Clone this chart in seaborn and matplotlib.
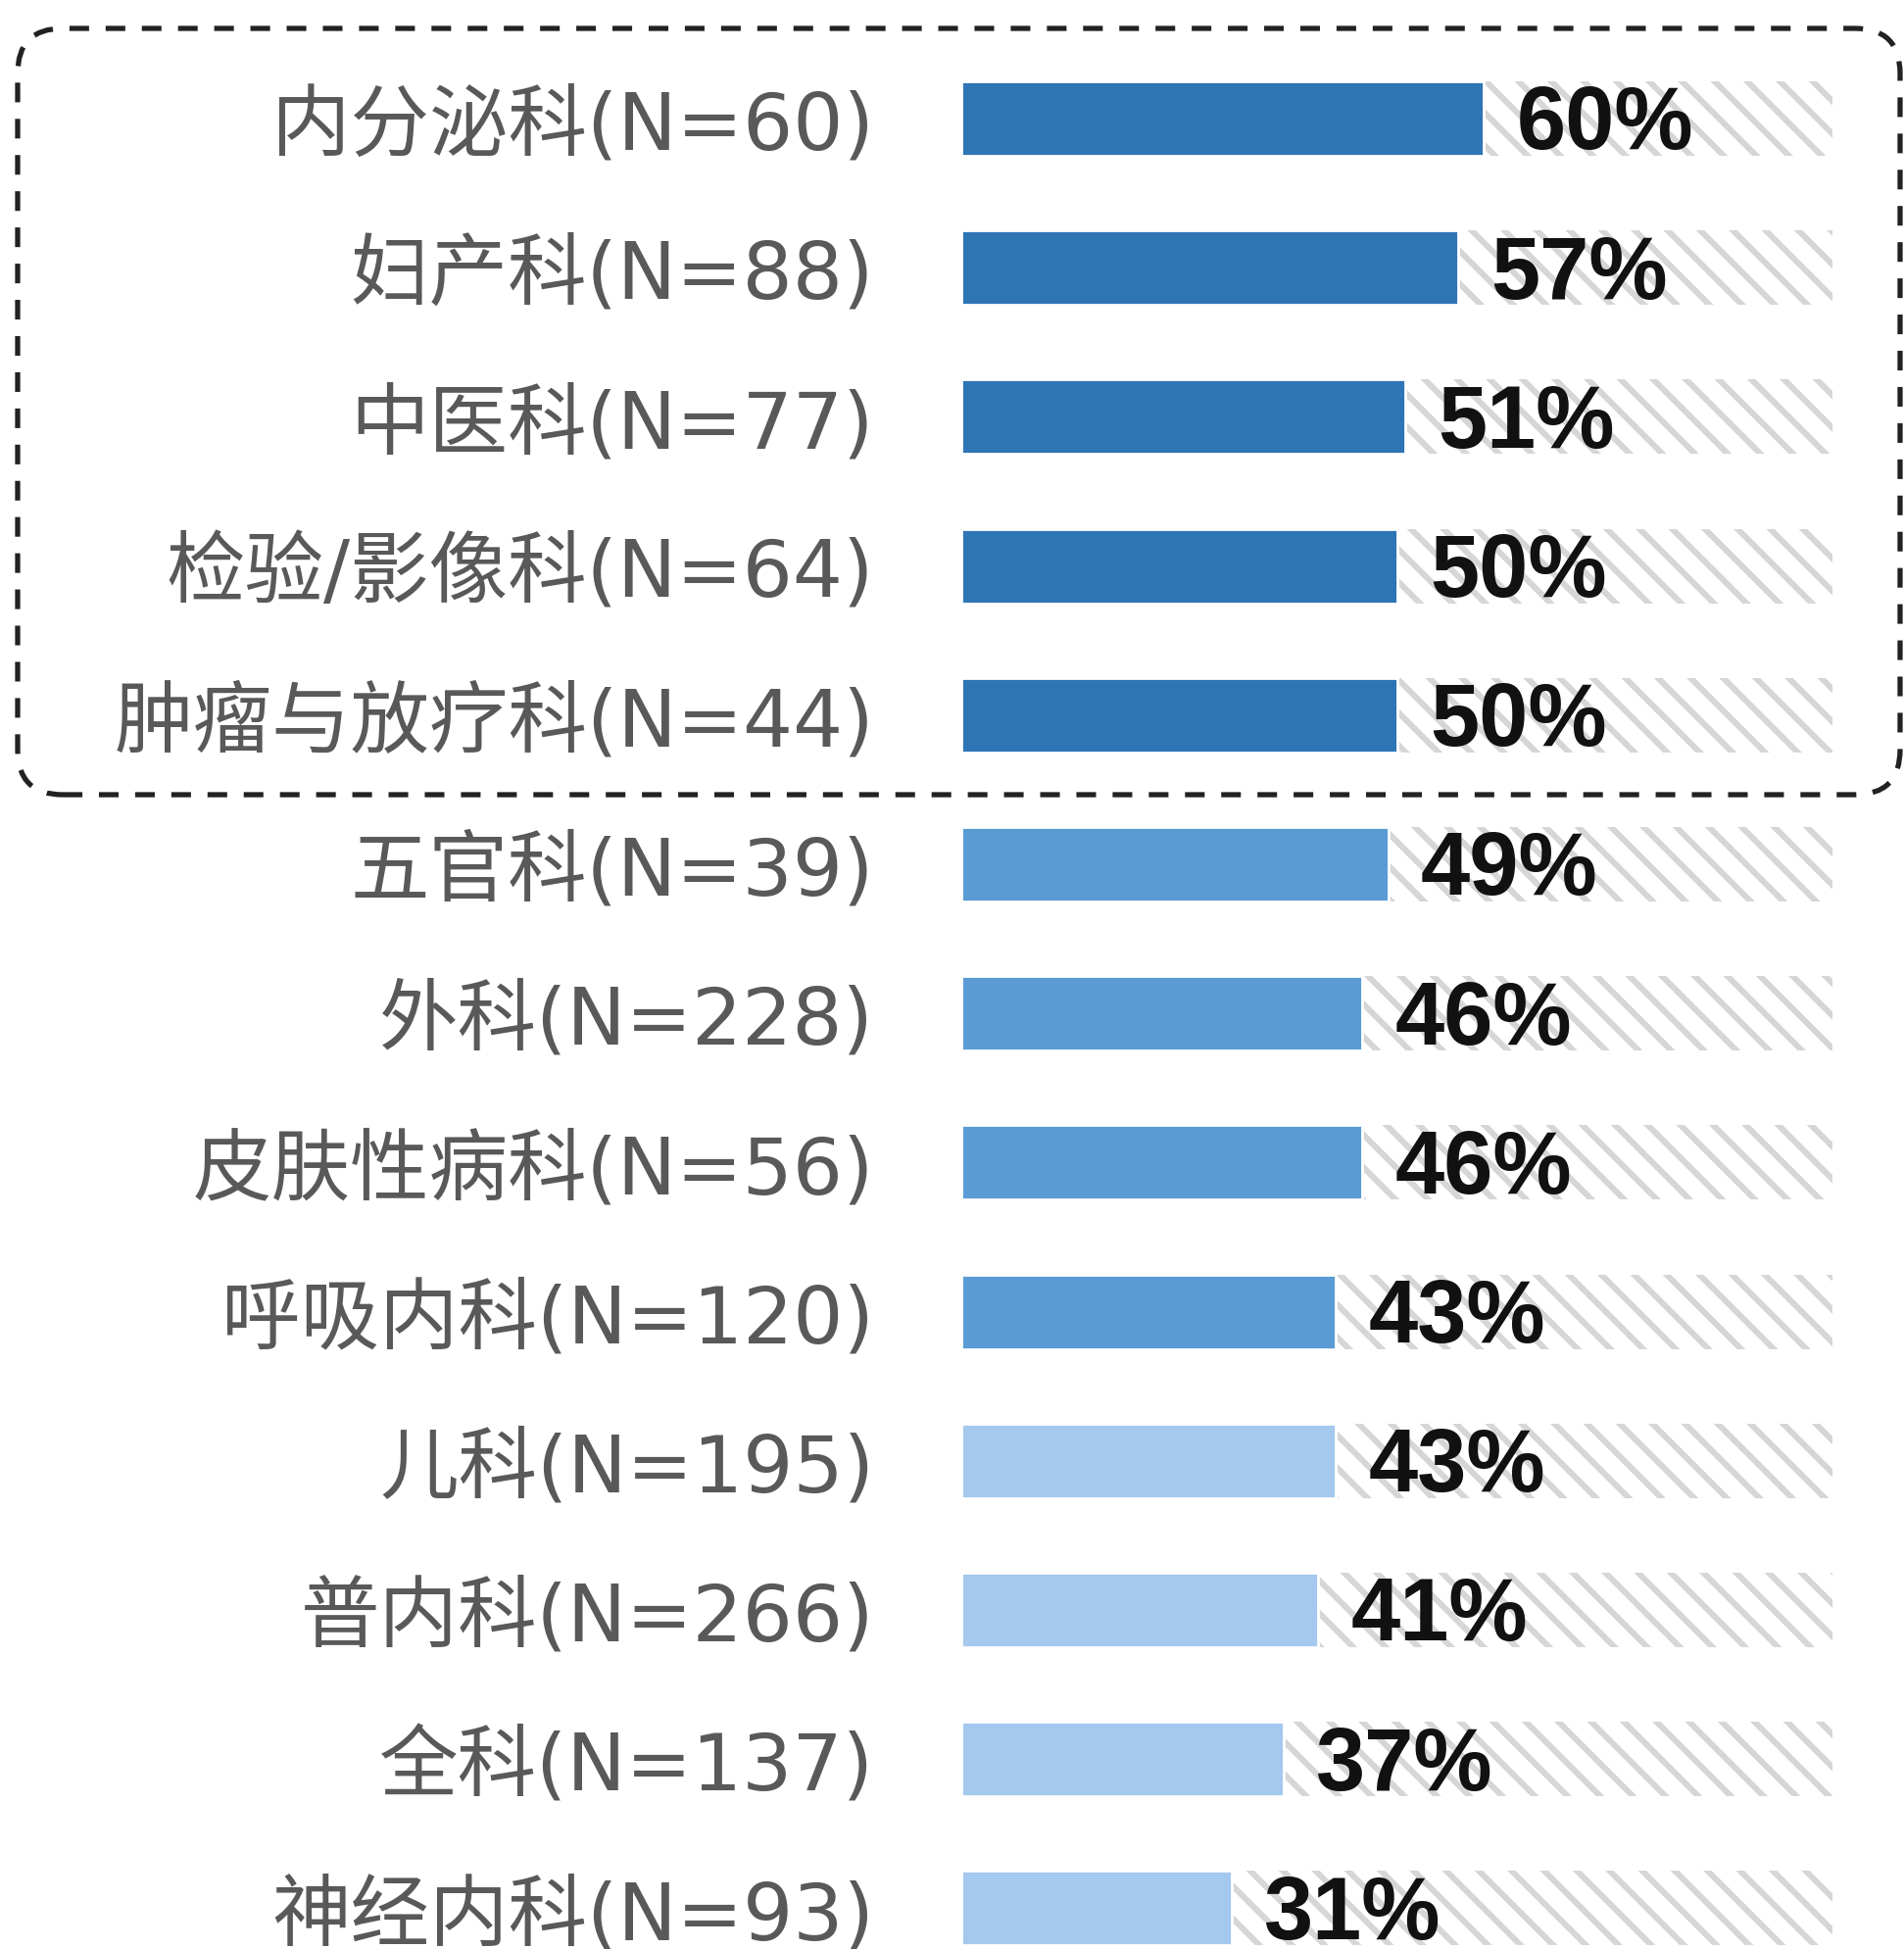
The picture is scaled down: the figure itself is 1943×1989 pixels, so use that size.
import matplotlib
matplotlib.use("Agg")
import matplotlib.pyplot as plt
import seaborn as sns
from matplotlib.patches import FancyBboxPatch

# ---- data ----
departments = ["内分泌科", "妇产科", "中医科", "检验/影像科", "肿瘤与放疗科",
               "五官科", "外科", "皮肤性病科", "呼吸内科", "儿科",
               "普内科", "全科", "神经内科"]
sample_n = [60, 88, 77, 64, 44, 39, 228, 56, 120, 195, 266, 137, 93]
percent = [60, 57, 51, 50, 50, 49, 46, 46, 43, 43, 41, 37, 31]
tier = ["top", "top", "top", "top", "top",
        "mid", "mid", "mid", "mid",
        "low", "low", "low", "low"]
tier_colors = {"top": "#2E75B6", "mid": "#5B9BD5", "low": "#A4C8EE"}
full_scale = [100] * len(departments)

labels = [f"{d}(N={n})" for d, n in zip(departments, sample_n)]
pct_labels = [f"{p}%" for p in percent]
palette = {lab: tier_colors[t] for lab, t in zip(labels, tier)}

# ---- figure ----
sns.set_theme(style="white")
plt.rcParams["font.family"] = ["DejaVu Sans", "Noto Sans CJK SC"]
plt.rcParams["hatch.linewidth"] = 2.2
plt.rcParams["hatch.color"] = "#d6d6d6"

W, H, DPI = 1943, 1990, 200
fig = plt.figure(figsize=(W / DPI, H / DPI), dpi=DPI)
fig.patch.set_facecolor("white")

x0_px, x100_px = 981, 1870
ax = fig.add_axes([x0_px / W, 0, (x100_px - x0_px) / W, 1])
ax.set_facecolor("none")

# background hatched bars (100%)
sns.barplot(x=full_scale, y=labels, color="white", width=0.5, saturation=1,
            orient="h", ax=ax)
for p in ax.containers[0]:
    p.set_hatch("\\\\")
    p.set_edgecolor("#d6d6d6")
    p.set_linewidth(0)

# value bars
sns.barplot(x=percent, y=labels, hue=labels, palette=palette, legend=False,
            width=0.5, saturation=1, orient="h", ax=ax)

for c, lab in zip(ax.containers[1:], pct_labels):
    anns = ax.bar_label(c, labels=[lab], padding=12, fontsize=32.5,
                        fontweight="bold", family="Liberation Sans",
                        color="#111111")
    for a in anns:
        ox, oy = a.xyann
        a.xyann = (ox, oy - 2.5)

# axis geometry: row i centred at 122 + 152*i px from top
first_c, step = 122, 152.2
ax.set_xlim(0, 100)
ax.set_ylim((H - first_c) / step, -first_c / step)
ax.set_xlabel("")
ax.set_ylabel("")
ax.set_xticks([])
ax.tick_params(axis="y", length=0, pad=32, labelsize=29, labelcolor="#595959")
for s in ax.spines.values():
    s.set_visible(False)

# dashed rounded highlight box (pixel geometry -> inches)
bx0, by0, bx1, by1 = 18, 30, 1939, 812
box = FancyBboxPatch((bx0 / DPI, (H - by1) / DPI),
                     (bx1 - bx0) / DPI, (by1 - by0) / DPI,
                     boxstyle="round,pad=0,rounding_size=0.23",
                     transform=fig.dpi_scale_trans, fill=False,
                     edgecolor="#222222", linewidth=1.9,
                     linestyle=(0, (3.8, 3.2)), zorder=10)
fig.patches.append(box)

fig.savefig("out.png", dpi=DPI, facecolor="white")
